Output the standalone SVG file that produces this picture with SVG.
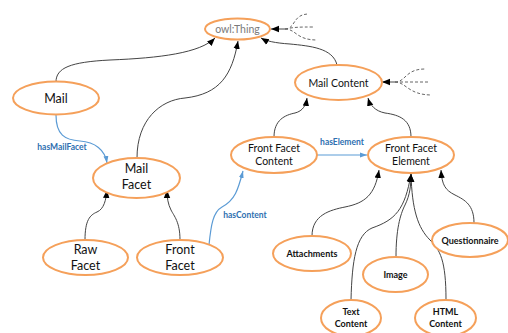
<svg xmlns="http://www.w3.org/2000/svg" width="508" height="333" viewBox="0 0 508 333">
<defs>
<marker id="ah" markerUnits="userSpaceOnUse" markerWidth="8" markerHeight="8" viewBox="0 0 10 10" refX="10" refY="5" orient="auto">
<path d="M0,1 L10,5 L0,9 Z" fill="#000"/>
</marker>
<marker id="ahb" markerUnits="userSpaceOnUse" markerWidth="7" markerHeight="7" viewBox="0 0 10 10" refX="10" refY="5" orient="auto">
<path d="M0,1.5 L10,5 L0,8.5 Z" fill="#5b9bd5"/>
</marker>
</defs>
<style>
.n ellipse{fill:#fff;stroke:#f5a05a;stroke-width:2}
.n text{font-family:Lato,"Liberation Sans",sans-serif;text-anchor:middle;fill:#111}
.big text{font-size:12.5px}
.mid text{font-size:10.5px}
.sm text{font-size:9px;font-weight:bold}
.c path{fill:none;stroke:#444;stroke-width:1}
.c path.a{marker-end:url(#ah)}
.c path.b{stroke:#5b9bd5;stroke-width:1.2;marker-end:url(#ahb)}
.c path.d{stroke:#666;stroke-dasharray:3,2}
.lbl{font-family:Lato,"Liberation Sans",sans-serif;font-size:8.5px;font-weight:bold;fill:#2e6fb0}
</style>
<rect width="508" height="333" fill="#fff"/>
<g id="connectors" class="c">
<path class="a" d="M56,82 C56,68 70,62 110,60 C160,58 200,53 215,38"/>
<path class="a" d="M137,158 C137,120 160,100 185,98 C220,94 232,75 238,41"/>
<path class="a" d="M337,65 C333,48 310,46 290,44 C275,43 266,41 261,38"/>
<path class="a" d="M285,29 L271,29"/>
<path class="d" d="M285,29 C296,29 292,14 309,14"/>
<path class="d" d="M285,29 C295,27 300,27 313,27"/>
<path class="d" d="M285,29 C296,29 296,40 317,40"/>
<path class="a" d="M395,82 L382,82"/>
<path class="d" d="M395,82 C406,82 405,69 425,69"/>
<path class="d" d="M395,82 L428,82"/>
<path class="d" d="M395,82 C406,82 408,95 432,95"/>
<path class="a" d="M274,137 C274,120 285,115 295,113 C303,111 306,105 307,98"/>
<path class="a" d="M411,137 C411,120 400,115 385,113 C375,111 370,105 368,98"/>
<path class="a" d="M85,240 C85,220 90,215 97,212 C104,209 106,200 107,190"/>
<path class="a" d="M180,240 C180,222 174,216 171,210 C168,204 167,198 167,190"/>
<path class="a" d="M312,236 C312,215 330,210 345,207 C365,203 375,195 379,170"/>
<path class="a" d="M351,300 C352,260 356,235 372,228 C395,220 405,210 411,174"/>
<path class="a" d="M396,257 C396,230 400,215 405,205 C410,195 411,185 411,174"/>
<path class="a" d="M446,300 C446,260 440,250 430,240 C418,228 412,210 411,174"/>
<path class="a" d="M474,223 C474,205 465,200 455,195 C445,190 442,185 441,170"/>
<path class="b" d="M56,115 C56,135 65,140 80,141 C95,142 105,150 107,163"/>
<path class="b" d="M209,245 C211,225 213,212 222,207 C235,200 238,190 243,171"/>
<path class="b" d="M317,155 L367,155"/>
</g>
<text class="lbl" x="62" y="150" text-anchor="middle">hasMailFacet</text>
<text class="lbl" x="245" y="218" text-anchor="middle">hasContent</text>
<text class="lbl" x="342" y="145" text-anchor="middle">hasElement</text>
<g id="owlThing" class="n mid"><ellipse cx="237.5" cy="29" rx="32.5" ry="10.5"/><text x="237.5" y="33" style="fill:#7a7a7a">owl:Thing</text></g>
<g id="mail" class="n big"><ellipse cx="56" cy="98" rx="43" ry="16.5"/><text x="56" y="102.5">Mail</text></g>
<g id="mailFacet" class="n big"><ellipse cx="136.5" cy="178" rx="43.5" ry="20"/><text x="136.5" y="173">Mail</text><text x="136.5" y="189">Facet</text></g>
<g id="rawFacet" class="n big"><ellipse cx="85.5" cy="257.5" rx="42.5" ry="17.5"/><text x="85.5" y="254">Raw</text><text x="85.5" y="270">Facet</text></g>
<g id="frontFacet" class="n big"><ellipse cx="180" cy="257.5" rx="43" ry="17.5"/><text x="180" y="254">Front</text><text x="180" y="270">Facet</text></g>
<g id="mailContent" class="n mid"><ellipse cx="338.5" cy="82.5" rx="43.5" ry="17.5"/><text x="338.5" y="86.5">Mail Content</text></g>
<g id="frontFacetContent" class="n mid"><ellipse cx="274" cy="155" rx="43" ry="18"/><text x="274" y="152">Front Facet</text><text x="274" y="165">Content</text></g>
<g id="frontFacetElement" class="n mid"><ellipse cx="411" cy="155" rx="43" ry="18"/><text x="411" y="152">Front Facet</text><text x="411" y="165">Element</text></g>
<g id="attachments" class="n sm"><ellipse cx="312" cy="253.5" rx="39" ry="17.5"/><text x="312" y="257">Attachments</text></g>
<g id="image" class="n sm"><ellipse cx="395.5" cy="274.5" rx="32.5" ry="17.5"/><text x="395.5" y="278">Image</text></g>
<g id="questionnaire" class="n sm"><ellipse cx="470" cy="240" rx="38" ry="17"/><text x="470" y="244">Questionnaire</text></g>
<g id="textContent" class="n sm"><ellipse cx="351" cy="318" rx="30" ry="18"/><text x="351" y="315">Text</text><text x="351" y="327">Content</text></g>
<g id="htmlContent" class="n sm"><ellipse cx="445.5" cy="318" rx="30.5" ry="18"/><text x="445.5" y="315">HTML</text><text x="445.5" y="327">Content</text></g>
</svg>
